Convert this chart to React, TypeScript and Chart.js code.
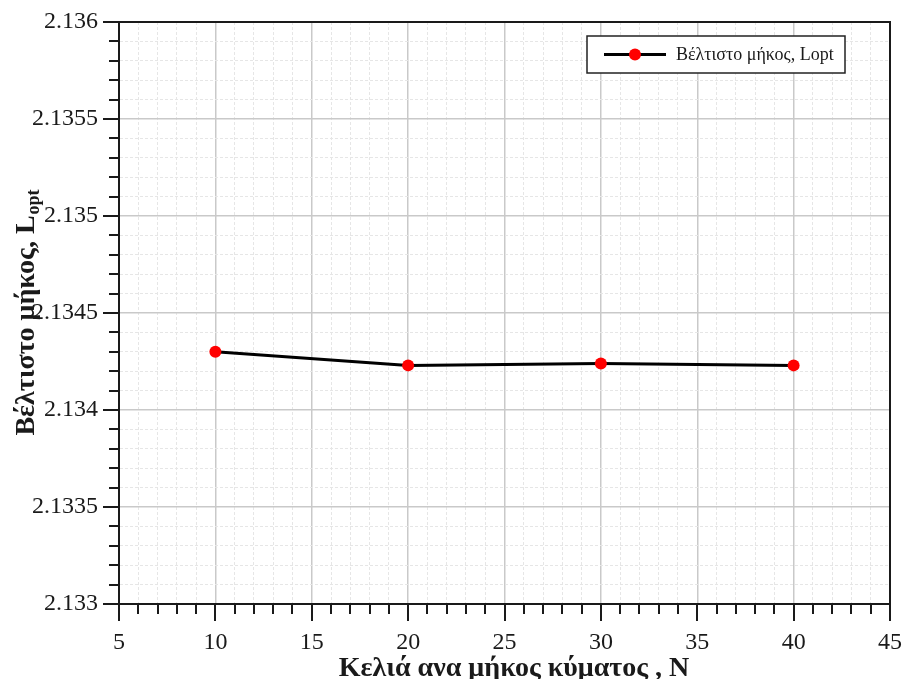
import React, { useEffect, useRef } from "react";
import { Chart, registerables } from "chart.js";

Chart.register(...registerables);

// ---- data ----
const cellsPerWavelength = [10, 20, 30, 40];
const optimalLength = [2.1343, 2.13423, 2.13424, 2.13423];
const xTickLabels = ["5", "10", "15", "20", "25", "30", "35", "40", "45"];
const yTickLabels = ["2.133", "2.1335", "2.134", "2.1345", "2.135", "2.1355", "2.136"];
const seriesLabel = "Βέλτιστο μήκος, Lopt";
const xTitle = "Κελιά ανα μήκος κύματος , N";
const yTitleMain = "Βέλτιστο μήκος, L";
const yTitleSub = "opt";

const X_MIN = 5;
const X_MAX = 45;
const Y_MIN = 2.133;
const Y_MAX = 2.136;
const Y_MINOR = 0.0001;

const SERIF = "'Liberation Serif', 'DejaVu Serif', serif";

const isMajorX = (v: number) => Math.abs(v - X_MIN) % 5 === 0;
const yIndex = (v: number) => Math.round((v - Y_MIN) / Y_MINOR);
const isMajorY = (v: number) => yIndex(v) % 5 === 0;

const zeroPad = (s: any) => {
  s.paddingTop = 0;
  s.paddingBottom = 0;
  s.paddingLeft = 0;
  s.paddingRight = 0;
};

const decorPlugin = {
  id: "decor",
  afterDraw(chart: any) {
    const { ctx, chartArea } = chart;
    const xs = chart.scales.x;
    const ys = chart.scales.y;
    const { left, right, top, bottom } = chartArea;
    ctx.save();

    // frame
    ctx.strokeStyle = "#1a1a1a";
    ctx.lineWidth = 2;
    ctx.strokeRect(left, top, right - left, bottom - top);

    // tick marks
    ctx.lineWidth = 2;
    ctx.beginPath();
    xs.ticks.forEach((t: any) => {
      const px = Math.round(xs.getPixelForValue(t.value));
      const len = isMajorX(t.value) ? 17 : 10;
      ctx.moveTo(px, bottom);
      ctx.lineTo(px, bottom + len);
    });
    ys.ticks.forEach((t: any) => {
      const py = Math.round(ys.getPixelForValue(t.value));
      const len = isMajorY(t.value) ? 16 : 10;
      ctx.moveTo(left, py);
      ctx.lineTo(left - len, py);
    });
    ctx.stroke();

    // legend
    const lx = 587, ly = 36, lw = 258, lh = 37;
    ctx.fillStyle = "#ffffff";
    ctx.fillRect(lx, ly, lw, lh);
    ctx.strokeStyle = "#222";
    ctx.lineWidth = 1.5;
    ctx.strokeRect(lx, ly, lw, lh);
    ctx.strokeStyle = "#000";
    ctx.lineWidth = 3;
    ctx.beginPath();
    ctx.moveTo(604, ly + lh / 2);
    ctx.lineTo(666, ly + lh / 2);
    ctx.stroke();
    ctx.fillStyle = "#ff0000";
    ctx.beginPath();
    ctx.arc(635, ly + lh / 2, 6, 0, Math.PI * 2);
    ctx.fill();
    ctx.fillStyle = "#1a1a1a";
    ctx.font = `18px ${SERIF}`;
    ctx.textAlign = "left";
    ctx.textBaseline = "middle";
    ctx.fillText(seriesLabel, 676, ly + lh / 2 + 1);

    // x title
    ctx.font = `bold 28px ${SERIF}`;
    ctx.textAlign = "center";
    ctx.textBaseline = "alphabetic";
    ctx.fillText(xTitle, 514, 676);

    // y title (rotated, with subscript)
    ctx.translate(34, 313);
    ctx.rotate(-Math.PI / 2);
    const mainFont = `bold 28px ${SERIF}`;
    const subFont = `bold 18px ${SERIF}`;
    ctx.font = mainFont;
    const wMain = ctx.measureText(yTitleMain).width;
    ctx.font = subFont;
    const wSub = ctx.measureText(yTitleSub).width;
    const start = -(wMain + wSub) / 2;
    ctx.textAlign = "left";
    ctx.font = mainFont;
    ctx.fillText(yTitleMain, start, 0);
    ctx.font = subFont;
    ctx.fillText(yTitleSub, start + wMain + 1, 5);

    ctx.restore();
  },
};

export default function App() {
  const ref = useRef<HTMLCanvasElement | null>(null);

  useEffect(() => {
    if (!ref.current) return;
    const chart = new Chart(ref.current, {
      type: "line",
      data: {
        datasets: [
          {
            label: seriesLabel,
            data: cellsPerWavelength.map((x, i) => ({ x, y: optimalLength[i] })),
            borderColor: "#000000",
            borderWidth: 3,
            tension: 0,
            pointRadius: 6,
            pointHoverRadius: 6,
            pointBackgroundColor: "#ff0000",
            pointBorderColor: "#ff0000",
            pointBorderWidth: 0,
            fill: false,
          },
        ],
      },
      options: {
        animation: false,
        responsive: false,
        events: [],
        layout: { padding: { left: 0, right: 16, top: 22, bottom: 0 } },
        plugins: {
          legend: { display: false },
          tooltip: { enabled: false },
          title: { display: false },
        },
        scales: {
          x: {
            type: "linear",
            min: X_MIN,
            max: X_MAX,
            afterFit: (s: any) => {
              s.height = 75;
              zeroPad(s);
            },
            ticks: {
              stepSize: 1,
              autoSkip: false,
              maxRotation: 0,
              padding: 24,
              color: "#1a1a1a",
              font: { family: SERIF, size: 24 },
              callback: (v: any) =>
                isMajorX(v) ? xTickLabels[Math.round((v - X_MIN) / 5)] : "",
            },
            grid: {
              drawTicks: false,
              color: (c: any) =>
                c.tick && isMajorX(c.tick.value) ? "#c9c9c9" : "#e6e6e6",
              lineWidth: (c: any) => (c.tick && isMajorX(c.tick.value) ? 1.5 : 1),
            },
            border: {
              display: true,
              color: "#1a1a1a",
              width: 2,
              dash: (c: any) => (c.tick && isMajorX(c.tick.value) ? [] : [3, 2]),
            },
          },
          y: {
            type: "linear",
            min: Y_MIN,
            max: Y_MAX,
            afterFit: (s: any) => {
              s.width = 119;
              zeroPad(s);
            },
            ticks: {
              stepSize: Y_MINOR,
              autoSkip: false,
              padding: 21,
              color: "#1a1a1a",
              font: { family: SERIF, size: 24 },
              callback: (v: any) => {
                const i = yIndex(v);
                return i % 5 === 0 ? yTickLabels[i / 5] : "";
              },
            },
            grid: {
              drawTicks: false,
              color: (c: any) =>
                c.tick && isMajorY(c.tick.value) ? "#c9c9c9" : "#e6e6e6",
              lineWidth: (c: any) => (c.tick && isMajorY(c.tick.value) ? 1.5 : 1),
            },
            border: {
              display: true,
              color: "#1a1a1a",
              width: 2,
              dash: (c: any) => (c.tick && isMajorY(c.tick.value) ? [] : [3, 2]),
            },
          },
        },
      },
      plugins: [decorPlugin],
    } as any);
    return () => chart.destroy();
  }, []);

  return (
    <div style={{ position: "absolute", left: 0, top: 0, width: 906, height: 679, background: "#fff" }}>
      <canvas ref={ref} width={906} height={679} style={{ display: "block" }} />
    </div>
  );
}
